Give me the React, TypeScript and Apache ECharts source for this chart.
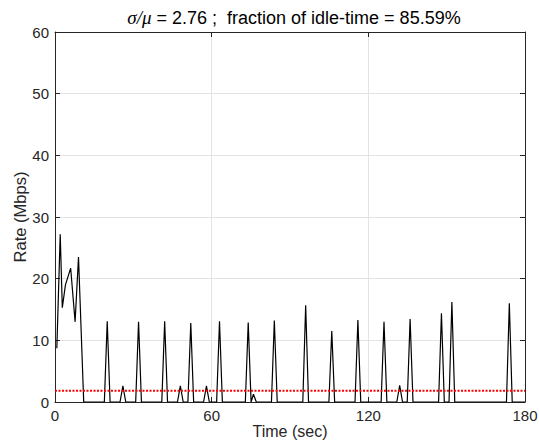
import React, { useEffect, useRef } from "react";
import * as echarts from "echarts";

// Initial burst (time in sec, rate in Mbps)
const burstTimes = [0.7, 2, 2.8, 4, 6, 7.7, 9, 11];
const burstRates = [8.7, 27.2, 15.3, 19, 21.7, 13, 23.5, 0];

// Isolated spikes (peak time in sec, peak rate in Mbps); line returns to 0 between them
const spikeTimes = [20, 26, 32, 42, 48, 52, 58, 63, 74, 76, 84, 96, 106, 116, 126, 132, 136, 148, 152, 174];
const spikeRates = [13.1, 2.6, 13.0, 13.1, 2.6, 12.8, 2.6, 13.1, 12.9, 1.25, 13.2, 15.7, 11.5, 13.3, 13.0, 2.7, 13.45, 14.4, 16.2, 16.0];
const spikeHalfWidth = 1.1;
const endTime = 180;

const meanRate = 1.83;

const xTicks = [0, 60, 120, 180];
const yTicks = [0, 10, 20, 30, 40, 50, 60];

const titleSigmaMu = "σ/μ";
const titleRest = " = 2.76 ;  fraction of idle-time = 85.59%";
const xName = "Time (sec)";
const yName = "Rate (Mbps)";

function buildSeries(): [number, number][] {
  const pts: [number, number][] = burstTimes.map((t, i) => [t, burstRates[i]]);
  spikeTimes.forEach((t, i) => {
    pts.push([t - spikeHalfWidth, 0]);
    pts.push([t, spikeRates[i]]);
    pts.push([t + spikeHalfWidth, 0]);
  });
  pts.push([endTime, 0]);
  return pts;
}

export default function App() {
  const ref = useRef<HTMLDivElement>(null);
  useEffect(() => {
    if (!ref.current) return;
    const chart = echarts.init(ref.current, undefined, { renderer: "svg" });
    const axisColor = "#262626";
    const gridColor = "#e3e3e3";
    const font = "Liberation Sans";
    const xMin = xTicks[0];
    const xMax = xTicks[xTicks.length - 1];
    const xInt = xTicks[1] - xTicks[0];
    const yMin = yTicks[0];
    const yMax = yTicks[yTicks.length - 1];
    const yInt = yTicks[1] - yTicks[0];
    const axisLine = { show: true, onZero: false, lineStyle: { color: axisColor, width: 1 } };
    const axisTick = { show: true, inside: true, length: 5, lineStyle: { color: axisColor, width: 1 } };
    chart.setOption({
      animation: false,
      backgroundColor: "#ffffff",
      title: {
        text: `{i|${titleSigmaMu}}{n|${titleRest}}`,
        left: 289,
        top: 3,
        textAlign: "center",
        textStyle: {
          fontWeight: "normal",
          rich: {
            i: { fontFamily: "Liberation Serif", fontStyle: "italic", fontWeight: "normal", fontSize: 19, color: "#000" },
            n: { fontFamily: font, fontWeight: "normal", fontSize: 18, color: "#000" },
          },
        },
      },
      grid: {
        left: 55,
        top: 32,
        width: 470,
        height: 370,
        containLabel: false,
        outerBoundsMode: "none",
      },
      xAxis: [
        {
          type: "value",
          min: xMin,
          max: xMax,
          interval: xInt,
          position: "bottom",
          name: xName,
          nameLocation: "middle",
          nameGap: 21,
          nameMoveOverlap: false,
          nameTextStyle: { fontFamily: font, fontSize: 16, color: axisColor },
          axisLabel: { fontFamily: font, fontSize: 15, color: axisColor, margin: 6 },
          splitLine: { show: true, lineStyle: { color: gridColor, width: 1 } },
          axisLine,
          axisTick,
        },
        {
          type: "value",
          min: xMin,
          max: xMax,
          interval: xInt,
          position: "top",
          axisLabel: { show: false },
          splitLine: { show: false },
          axisLine,
          axisTick,
        },
      ],
      yAxis: [
        {
          type: "value",
          min: yMin,
          max: yMax,
          interval: yInt,
          position: "left",
          name: yName,
          nameLocation: "middle",
          nameGap: 27,
          nameMoveOverlap: false,
          nameTextStyle: { fontFamily: font, fontSize: 16.5, color: axisColor },
          axisLabel: { fontFamily: font, fontSize: 15, color: axisColor, margin: 6 },
          splitLine: { show: true, lineStyle: { color: gridColor, width: 1 } },
          axisLine,
          axisTick,
        },
        {
          type: "value",
          min: yMin,
          max: yMax,
          interval: yInt,
          position: "right",
          axisLabel: { show: false },
          splitLine: { show: false },
          axisLine,
          axisTick,
        },
      ],
      series: [
        {
          type: "line",
          xAxisIndex: 0,
          yAxisIndex: 0,
          data: buildSeries(),
          showSymbol: false,
          symbol: "none",
          lineStyle: { color: "#000000", width: 1.2 },
          z: 3,
        },
        {
          type: "line",
          xAxisIndex: 0,
          yAxisIndex: 0,
          data: [
            [xMin, meanRate],
            [xMax, meanRate],
          ],
          showSymbol: false,
          symbol: "none",
          lineStyle: { color: "#ff0000", width: 2, type: [2, 1.5] },
          z: 4,
        },
      ],
    });
    return () => chart.dispose();
  }, []);
  return (
    <div
      ref={ref}
      style={{ position: "fixed", left: 0, top: 0, width: 539, height: 440 }}
    />
  );
}
